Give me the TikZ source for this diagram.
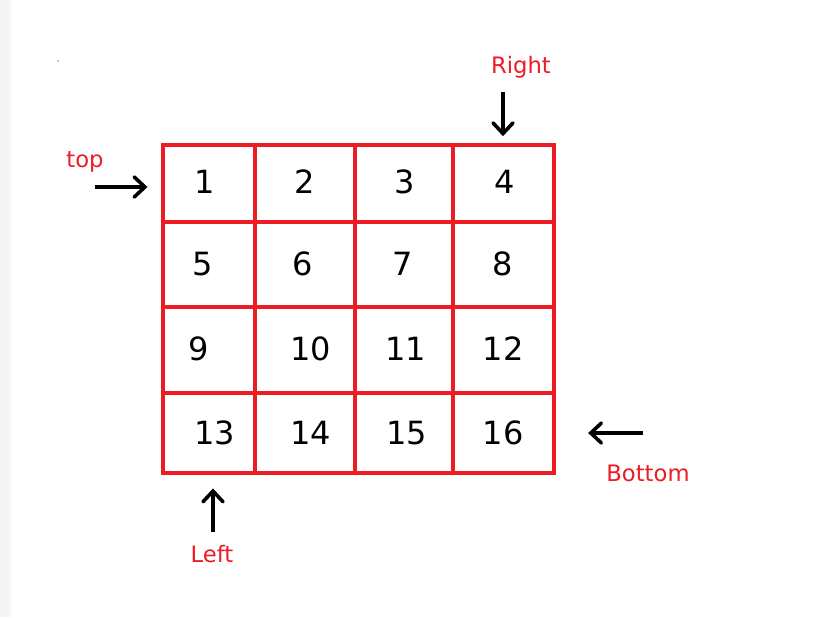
\documentclass[tikz,border=0pt]{standalone}
\usepackage{fontspec}
\setmainfont{DejaVu Sans}
\usetikzlibrary{arrows.meta}
\definecolor{paintred}{HTML}{ED1C24}
\tikzset{
	cell/.style={
		draw=paintred,
		line width=3.2pt,
		inner sep=0pt
	},
	cell number/.style={
		font=\fontsize{24}{24}\selectfont,
		inner sep=0pt
	},
	side label/.style={
		text=paintred,
		font=\fontsize{17}{17}\selectfont,
		inner sep=0pt
	},
	side arrow/.style={
		-{Straight Barb[length=8pt,width=15pt,line cap=round]},
		line width=2.7pt,
		black
	},
}

\begin{document}
\begin{tikzpicture}[x=0.75pt, y=-0.75pt]

\useasboundingbox (0,0) rectangle (827,617);
\fill [black!4] (0,0) rectangle (11,617);
\fill (58,61) circle (0.4pt);

% the 4x4 grid
\foreach \r/\ya/\yb in {0/145/222, 1/222/307, 2/307/393, 3/393/473}
	\foreach \c/\xa/\xb in {1/163/255, 2/255/355, 3/355/453, 4/453/554}
	{
		\pgfmathtruncatemacro{\n}{4*\r+\c}
		\node [cell, minimum width=(\xb-\xa)*0.75pt, minimum height=(\yb-\ya)*0.75pt]
			(cell-\n) at ({(\xa+\xb)/2},{(\ya+\yb)/2}) {};
	}

\foreach \n/\x/\y in {1/205/182, 2/305/182, 3/405/182, 4/505/182,
		5/203/264, 6/303/264, 7/403/264, 8/503/264,
		9/199/349, 10/311/349, 11/406/349, 12/503/349,
		13/215/433, 14/311/433, 15/407/433, 16/503/433}
	\node [cell number] (num-\n) at (\x,\y) {\n};

% side labels and arrows
\node [side label] (top) at (85,162) {top};
\node [side label] (right) at (521,67) {Right};
\node [side label] (left) at (212,554) {Left};
\node [side label] (bottom) at (648,473) {Bottom};

\coordinate (top-tail) at (95,187);
\coordinate (right-tail) at (503,92);
\coordinate (left-tail) at (213,532);
\coordinate (bottom-tail) at (643,433);

\draw [side arrow, shorten >=10pt] (top-tail) -- (top-tail -| cell-1.west);
\draw [side arrow, shorten >=5pt] (right-tail) -- (right-tail |- cell-4.north);
\draw [side arrow, shorten >=10pt] (left-tail) -- (left-tail |- cell-13.south);
\draw [side arrow, shorten >=24pt] (bottom-tail) -- (bottom-tail -| cell-16.east);

\end{tikzpicture}
\end{document}
